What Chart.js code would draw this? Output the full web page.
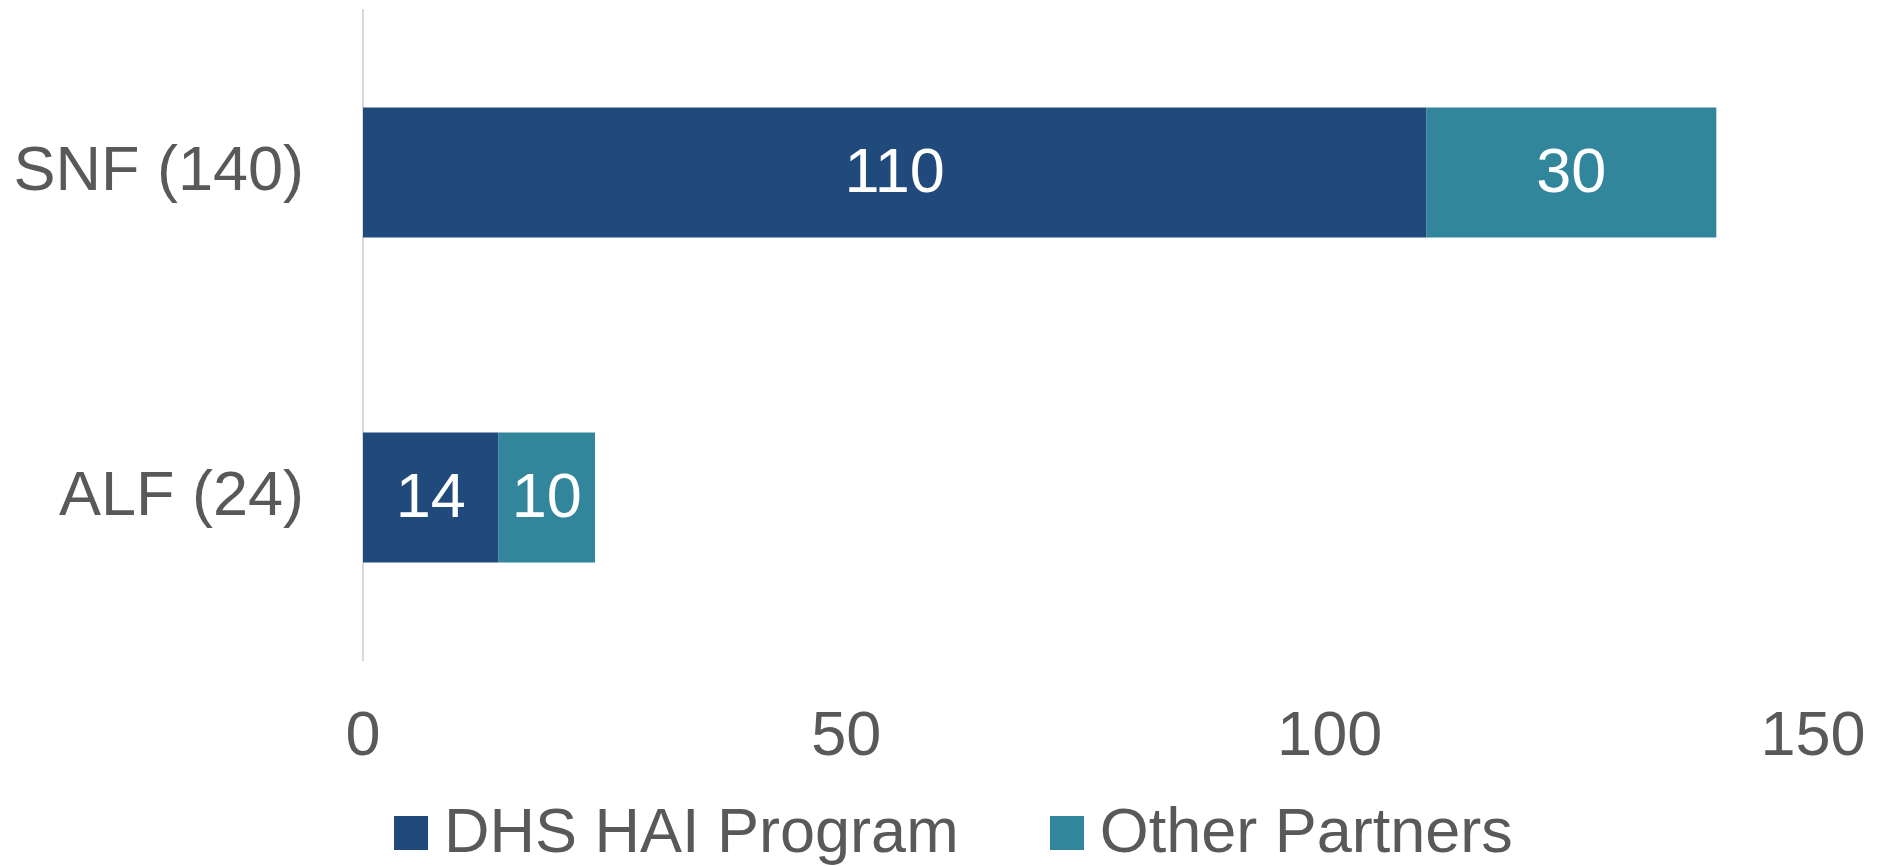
<!DOCTYPE html>
<html>
<head>
<meta charset="utf-8">
<script src="https://cdn.jsdelivr.net/npm/chart.js@4/dist/chart.umd.min.js"></script>
<style>
  html, body { margin: 0; padding: 0; background: #ffffff; }
  #wrap { position: relative; width: 1881px; height: 866px; }
  #legend {
    position: absolute; left: 394px; top: 799px;
    display: flex; align-items: center;
    font-family: 'Liberation Sans', Arial, sans-serif;
    font-size: 63px; line-height: 63px; color: #595959;
    white-space: nowrap;
  }
  #legend .item { display: flex; align-items: center; margin-right: 91px; }
  #legend .box { width: 34px; height: 34px; margin-right: 16px; position: relative; top: 2px; }
</style>
</head>
<body>
<div id="wrap">
  <canvas id="chart"></canvas>
  <div id="legend"></div>
</div>
<script>
'use strict';

const categories = ['SNF (140)', 'ALF (24)'];
const dhsValues = [110, 14];
const partnerValues = [30, 10];
const seriesNames = ['DHS HAI Program', 'Other Partners'];
const seriesColors = ['#204A7B', '#32869C'];
const xTicks = [0, 50, 100, 150];

const textColor = '#595959';
const fontFamily = "'Liberation Sans', Arial, sans-serif";

// draws the white value labels in the middle of each bar segment
const barLabels = {
    id: 'barLabels',
    afterDatasetsDraw(chart) {
        const ctx = chart.ctx;
        ctx.save();
        ctx.fillStyle = '#ffffff';
        ctx.font = '63px ' + fontFamily;
        ctx.textAlign = 'center';
        ctx.textBaseline = 'middle';
        chart.data.datasets.forEach((ds, i) => {
            chart.getDatasetMeta(i).data.forEach((bar, j) => {
                const p = bar.getCenterPoint();
                ctx.fillText(String(ds.data[j]), p.x, p.y + 2);
            });
        });
        ctx.restore();
    }
};

const canvasElem = document.getElementById('chart');

const chart = new Chart(canvasElem.getContext('2d'), {
    type: 'bar',
    data: {
        labels: categories,
        datasets: [{
            label: seriesNames[0],
            data: dhsValues,
            backgroundColor: seriesColors[0],
            borderWidth: 0,
            barPercentage: 0.4,
            categoryPercentage: 1
        },
        {
            label: seriesNames[1],
            data: partnerValues,
            backgroundColor: seriesColors[1],
            borderWidth: 0,
            barPercentage: 0.4,
            categoryPercentage: 1
        }]
    },
    options: {
        indexAxis: 'y',
        responsive: true,
        maintainAspectRatio: false,
        animation: false,
        layout: {
            padding: { left: 0, right: 68, top: 10, bottom: 66 }
        },
        scales: {
            x: {
                stacked: true,
                min: 0,
                max: 150,
                afterBuildTicks(scale) {
                    scale.ticks = xTicks.map(v => ({ value: v }));
                },
                afterFit(scale) {
                    scale.height = 140;
                    scale.paddingLeft = 0;
                    scale.paddingRight = 0;
                },
                grid: { display: false, drawTicks: false },
                border: { display: false },
                ticks: {
                    color: textColor,
                    padding: 40,
                    font: { family: fontFamily, size: 63 }
                }
            },
            y: {
                stacked: true,
                afterFit(scale) {
                    scale.width = 363;
                    scale.paddingTop = 0;
                    scale.paddingBottom = 0;
                },
                grid: { display: false, drawTicks: false },
                border: { display: true, color: '#d9d9d9', width: 2 },
                ticks: {
                    color: textColor,
                    padding: 59,
                    font: { family: fontFamily, size: 63 }
                }
            }
        },
        plugins: {
            legend: { display: false },
            tooltip: { enabled: false }
        }
    },
    plugins: [barLabels]
});

// legend built from the chart's datasets
const legendEl = document.getElementById('legend');
chart.data.datasets.forEach(ds => {
    const item = document.createElement('div');
    item.className = 'item';
    const box = document.createElement('span');
    box.className = 'box';
    box.style.background = ds.backgroundColor;
    const label = document.createElement('span');
    label.textContent = ds.label;
    item.appendChild(box);
    item.appendChild(label);
    legendEl.appendChild(item);
});
</script>
</body>
</html>
